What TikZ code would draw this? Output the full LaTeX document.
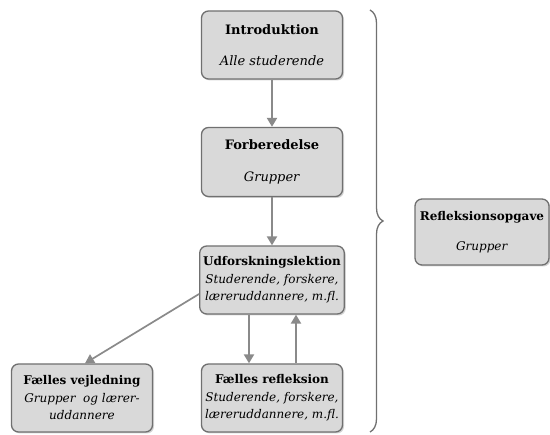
\documentclass[tikz,border=0pt]{standalone}
\usepackage{fontspec}
\setmainfont{DejaVu Serif}
\usetikzlibrary{arrows.meta,shadows,decorations.pathreplacing}
\definecolor{boxfill}{HTML}{D9D9D9}
\definecolor{boxline}{HTML}{707070}
\definecolor{arrowgray}{HTML}{8A8A8A}
\begin{document}
\begin{tikzpicture}[x=1pt, y=-1pt,
    phase/.style={draw=boxline, line width=1.3pt, fill=boxfill, rounded corners=7pt,
        minimum width=141pt, minimum height=68pt, align=center, font=\fontsize{12}{17.5}\selectfont,
        drop shadow={shadow xshift=1.5pt, shadow yshift=-1.5pt, opacity=0.35}},
    bigphase/.style={phase, font=\fontsize{13}{17.5}\selectfont},
    flow/.style={draw=arrowgray, line width=2.2pt, -{Triangle[length=9pt, width=10pt]}}]
    \useasboundingbox (0,0) rectangle (550,435);
    % main column
    \node[bigphase] (intro) at (272,45) {\textbf{Introduktion}\\[14pt]\textit{Alle studerende}};
    \node[bigphase, minimum height=69pt] (forb) at (272,162) {\textbf{Forberedelse}\\[15pt]\textit{Grupper}};
    \node[phase] (udf) at (272,280) {\textbf{Udforskningslektion}\\\textit{Studerende, forskere,}\\\textit{læreruddannere, m.fl.}};
    \node[phase] (refl) at (272,398) {\textbf{Fælles refleksion}\\\textit{Studerende, forskere,}\\\textit{læreruddannere, m.fl.}};
    \node[phase] (vejl) at (82,398) {\textbf{Fælles vejledning}\\\textit{Grupper\ \ og lærer-}\\\textit{uddannere}};
    \node[phase, minimum width=134pt, minimum height=66pt, inner xsep=2pt] (opg) at (482,232) {\textbf{Refleksionsopgave}\\[12pt]\textit{Grupper}};
    % connectors
    \draw[flow] (intro) -- (forb);
    \draw[flow] (forb) -- (udf);
    \draw[flow] ([xshift=-23pt]udf.south) -- ([xshift=-23pt]refl.north);
    \draw[flow] ([xshift=24pt]refl.north) -- ([xshift=24pt]udf.south);
    \draw[flow, line width=1.7pt] ([yshift=-14pt]udf.west) -- ([xshift=3pt]vejl.north);
    % brace
    \draw[boxline, line width=1.3pt, decorate, decoration={brace, amplitude=13pt}]
        (370,10) -- (370,432);
\end{tikzpicture}
\end{document}
